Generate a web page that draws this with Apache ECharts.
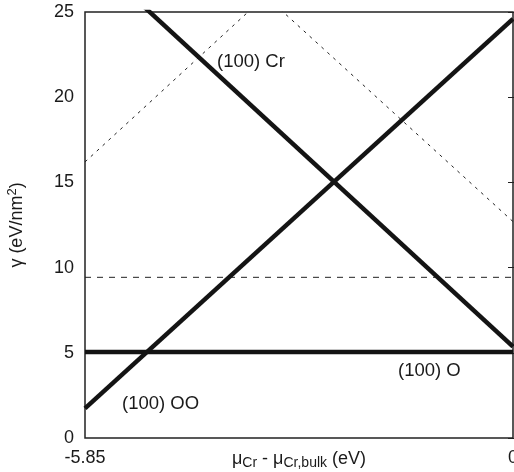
<!DOCTYPE html>
<html>
<head>
<meta charset="utf-8">
<script src="https://cdn.jsdelivr.net/npm/echarts@6/dist/echarts.min.js"></script>
<style>html,body{margin:0;padding:0;background:#fff}#c{width:514px;height:472px}</style>
</head>
<body>
<div id="c"></div>
<script>
// x positions (chemical potential, eV)
var xValues = [-5.85, 0];
// surface energies (eV/nm^2) at each x position
var seriesO = [5.05, 5.05];          // (100) O
var seriesOO = [1.74, 24.6];         // (100) OO
var seriesCr = [28.5, 5.36];         // (100) Cr
var dashRise = [16.2, 39.3];         // dashed, rising
var dashFall = [35.6, 12.7];         // dashed, falling
var dashFlat = [9.43, 9.43];         // dashed, flat
var xTicks = [-5.85, 0];
var yTicks = [0, 5, 10, 15, 20, 25];

function pairs(ys) { return xValues.map(function (x, i) { return [x, ys[i]]; }); }

var FONT = '"Liberation Sans", Arial, sans-serif';
var TXT = '#1a1a1a';
var chart = echarts.init(document.getElementById('c'), null, { renderer: 'canvas' });

function solid(data) {
  return { type: 'line', data: pairs(data), symbol: 'none', clip: true, silent: true,
    lineStyle: { color: '#141414', width: 4.5, cap: 'butt' } };
}
function dashed(data, dash) {
  return { type: 'line', data: pairs(data), symbol: 'none', clip: true, silent: true,
    lineStyle: { color: '#222', width: 1, type: dash } };
}

chart.setOption({
  animation: false,
  backgroundColor: '#fff',
  grid: { left: 85, top: 12, right: 1, bottom: 34, containLabel: false, outerBoundsMode: 'none',
    show: true, borderColor: '#222', borderWidth: 1.5, backgroundColor: 'transparent' },
  xAxis: {
    type: 'value', min: xTicks[0], max: xTicks[1], interval: xTicks[1] - xTicks[0],
    axisLine: { show: false }, splitLine: { show: false }, axisTick: { show: false },
    axisLabel: { color: TXT, fontFamily: FONT, fontSize: 18, margin: 11,
      formatter: function (v) { return Math.abs(v) < 1e-9 ? '0' : v.toFixed(2); } },
    name: '{m|μ}{s|Cr}{m| - μ}{s|Cr,bulk}{m| (eV)}',
    nameLocation: 'middle', nameGap: 10, nameMoveOverlap: false,
    nameTextStyle: {
      rich: {
        m: { fontFamily: FONT, fontSize: 18, color: TXT, lineHeight: 22 },
        s: { fontFamily: FONT, fontSize: 14, color: TXT, lineHeight: 14, verticalAlign: 'bottom' }
      }
    }
  },
  yAxis: [{
    type: 'value', min: yTicks[0], max: yTicks[yTicks.length - 1], interval: yTicks[1] - yTicks[0],
    axisLine: { show: false }, splitLine: { show: false },
    axisTick: { show: true, inside: true, length: 5, lineStyle: { color: '#222', width: 1 } },
    axisLabel: { color: TXT, fontFamily: FONT, fontSize: 18, margin: 11 },
    name: '{m|γ (eV/nm}{p|2}{m|)}',
    nameLocation: 'middle', nameGap: 57, nameMoveOverlap: false,
    nameTextStyle: {
      rich: {
        m: { fontFamily: FONT, fontSize: 18, color: TXT, lineHeight: 22 },
        p: { fontFamily: FONT, fontSize: 13, color: TXT, lineHeight: 13, verticalAlign: 'top' }
      }
    }
  }, {
    type: 'value', position: 'right', min: yTicks[0], max: yTicks[yTicks.length - 1], interval: yTicks[1] - yTicks[0],
    axisLine: { show: false }, splitLine: { show: false },
    axisTick: { show: true, inside: true, length: 5, lineStyle: { color: '#222', width: 1 } },
    axisLabel: { show: false }
  }],
  series: [
    dashed(dashRise, [3, 5]),
    dashed(dashFall, [3, 5]),
    dashed(dashFlat, [6, 6]),
    solid(seriesO),
    solid(seriesOO),
    solid(seriesCr)
  ],
  graphic: [
    { type: 'text', left: 217, top: 52, style: { text: '(100) Cr', font: '18.5px ' + FONT, fill: TXT } },
    { type: 'text', left: 398, top: 361, style: { text: '(100) O', font: '18.5px ' + FONT, fill: TXT } },
    { type: 'text', left: 122, top: 394, style: { text: '(100) OO', font: '18.5px ' + FONT, fill: TXT } }
  ]
});
</script>
</body>
</html>
